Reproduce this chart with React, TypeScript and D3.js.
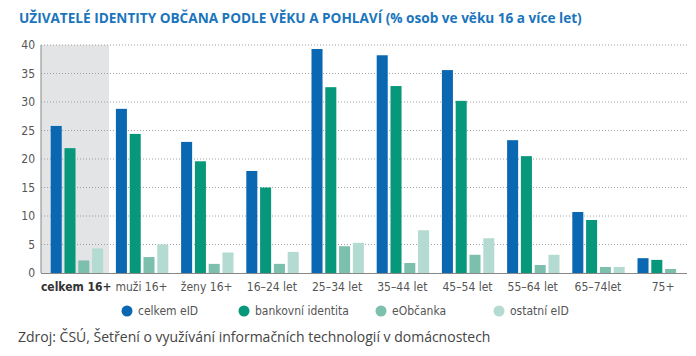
import React from "react";
import * as d3 from "d3";

const categories = ["celkem 16+", "muži 16+", "ženy 16+", "16–24 let", "25–34 let", "35–44 let", "45–54 let", "55–64 let", "65–74let", "75+"];
const seriesNames = ["celkem eID", "bankovní identita", "eObčanka", "ostatní eID"];
const celkemEID = [25.8, 28.8, 23.0, 17.9, 39.3, 38.2, 35.6, 23.3, 10.7, 2.6];
const bankovni = [21.9, 24.4, 19.6, 15.0, 32.6, 32.8, 30.2, 20.5, 9.3, 2.3];
const eObcanka = [2.2, 2.8, 1.6, 1.6, 4.7, 1.75, 3.2, 1.4, 1.05, 0.7];
const ostatni = [4.3, 5.0, 3.6, 3.7, 5.3, 7.5, 6.1, 3.2, 1.05, 0];
const yTicks = [0, 5, 10, 15, 20, 25, 30, 35, 40];
const colors = ["#0a68b2", "#07977a", "#7cbfad", "#b4dbd1"];
const title = "UŽIVATELÉ IDENTITY OBČANA PODLE VĚKU A POHLAVÍ (% osob ve věku 16 a více let)";
const source = "Zdroj: ČSÚ, Šetření o využívání informačních technologií v domácnostech";

export default function App() {
  const W = 696, H = 356;
  const axisX = 41, plotRight = 687;
  const y = d3.scaleLinear().domain([0, 40]).range([273, 45]);
  const x0 = d3.scaleBand<string>().domain(categories).range([44.3, 44.3 + 65.2 * 10]).paddingInner(0).paddingOuter(0);
  const x1 = d3.scaleBand<string>().domain(seriesNames).range([6.4, 58.8]).paddingInner(0.2).paddingOuter(0);
  const data = [celkemEID, bankovni, eObcanka, ostatni];
  const condensed = "'DejaVu Sans Condensed', 'Liberation Sans Narrow', sans-serif";
  const legendX = [127, 244, 381, 499];

  return (
    <svg width={W} height={H} style={{ position: "absolute", left: 0, top: 0, background: "#fff" }}>
      <text x={19} y={23} fontFamily="'Open Sans', sans-serif" fontWeight={700} fontSize={13.6} fill="#1a75bc">{title}</text>
      <rect x={axisX} y={y(40)} width={109 - axisX} height={y(0) - y(40)} fill="#e3e4e6" />
      {yTicks.map((t) => (
        <g key={t}>
          {t > 0 && (
            <line x1={axisX} x2={plotRight} y1={y(t)} y2={y(t)} stroke="#a0a0a0" strokeWidth={1} strokeDasharray="1,2" />
          )}
          <text x={35} y={y(t) + 4} textAnchor="end" fontFamily={condensed} fontSize={12} fill="#555">{t}</text>
        </g>
      ))}
      {categories.map((c, i) => (
        <g key={c} transform={`translate(${x0(c)},0)`}>
          {data.map((s, j) => (
            s[i] > 0 ? (
              <rect key={j} x={x1(seriesNames[j])} y={y(s[i])} width={x1.bandwidth()} height={y(0) - y(s[i])} fill={colors[j]} />
            ) : null
          ))}
        </g>
      ))}
      <line x1={axisX} x2={axisX} y1={y(40)} y2={y(0)} stroke="#888" strokeWidth={1} />
      <line x1={axisX} x2={plotRight} y1={y(0) + 0.5} y2={y(0) + 0.5} stroke="#888" strokeWidth={1} />
      {categories.map((c, i) => (
        <text key={c} x={(x0(c) as number) + 32} y={291} textAnchor="middle" fontFamily={condensed} fontSize={12} fontWeight={i === 0 ? 700 : 400} fill={i === 0 ? "#333" : "#555"}>{c}</text>
      ))}
      {seriesNames.map((s, j) => (
        <g key={s}>
          <circle cx={legendX[j]} cy={311} r={5.5} fill={colors[j]} />
          <text x={legendX[j] + 11} y={315} fontFamily={condensed} fontSize={12} fill="#555">{s}</text>
        </g>
      ))}
      <text x={18} y={342} fontFamily="'Open Sans', sans-serif" fontSize={14} fill="#444">{source}</text>
    </svg>
  );
}
